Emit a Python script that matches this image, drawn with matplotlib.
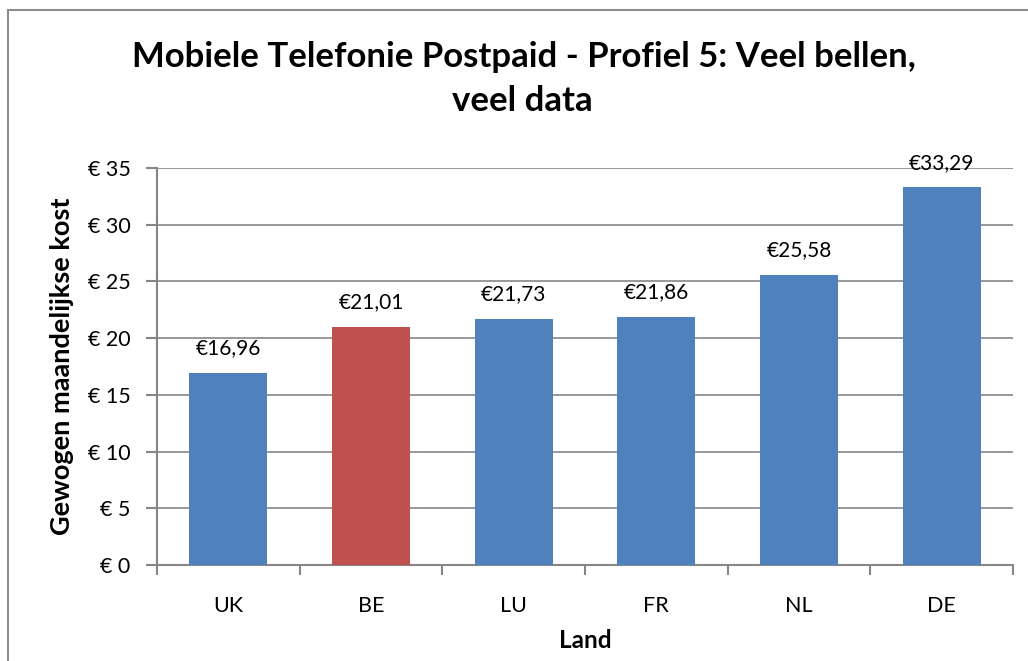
import numpy as np
import matplotlib.pyplot as plt
from matplotlib.patches import Rectangle

# gegevens
landen = ['UK', 'BE', 'LU', 'FR', 'NL', 'DE']
kost = [16.96, 21.01, 21.73, 21.86, 25.58, 33.29]
kleuren = ['#4F81BD', '#C0504D', '#4F81BD', '#4F81BD', '#4F81BD', '#4F81BD']
yticks = [0, 5, 10, 15, 20, 25, 30, 35]

plt.rcParams['font.family'] = ['Lato', 'DejaVu Sans']

fig = plt.figure(figsize=(10.28, 6.61), dpi=100)
W, H = 1028, 661
ax = fig.add_axes([157 / W, 1 - 565 / H, (1013 - 157) / W, (565 - 168) / H])

# kader rond de grafiek
fig.patches.append(Rectangle((8 / W, -0.1), 1.2, 1 - 10 / H + 0.1,
                             transform=fig.transFigure, fill=False,
                             edgecolor='#8C8C8C', linewidth=1.5))

x = np.arange(len(landen))
ax.bar(x, kost, width=0.546, color=kleuren, zorder=3)

for xi, v in zip(x, kost):
    ax.annotate('€' + f'{v:.2f}'.replace('.', ','), (xi, v),
                xytext=(0, 10.5), textcoords='offset points',
                ha='center', va='bottom', fontsize=15)

ax.set_xlim(-0.5, len(landen) - 0.5)
ax.set_ylim(0, 35)
ax.set_yticks(yticks)
ax.set_yticklabels(['€ %d' % t for t in yticks], fontsize=15.5)
ax.set_xticks(x)
ax.set_xticklabels(landen, fontsize=15.5)
ax.set_xticks(np.arange(-0.5, len(landen)), minor=True)
ax.tick_params(axis='x', which='major', length=0, pad=22)
ax.tick_params(axis='x', which='minor', length=7, color='#868686', width=1.5)
ax.tick_params(axis='y', length=8, color='#868686', width=1.5, pad=11)

ax.grid(axis='y', color='#868686', linewidth=1.2, zorder=0)
for s in ['top', 'right']:
    ax.spines[s].set_visible(False)
for s in ['left', 'bottom']:
    ax.spines[s].set_color('#868686')
    ax.spines[s].set_linewidth(1.5)

ax.set_ylabel('Gewogen maandelijkse kost', fontsize=19.5, fontweight='bold')
ax.yaxis.set_label_coords((74 - 157) / 856, 0.5)
ax.set_xlabel('Land', fontsize=17.5, fontweight='bold', labelpad=10)

fig.text(524 / W, 1 - 57 / H, 'Mobiele Telefonie Postpaid - Profiel 5: Veel bellen,',
         ha='center', va='center', fontsize=25, fontweight='bold')
fig.text(522 / W, 1 - 101 / H, 'veel data',
         ha='center', va='center', fontsize=25, fontweight='bold')

fig.savefig('out.png', dpi=100)
